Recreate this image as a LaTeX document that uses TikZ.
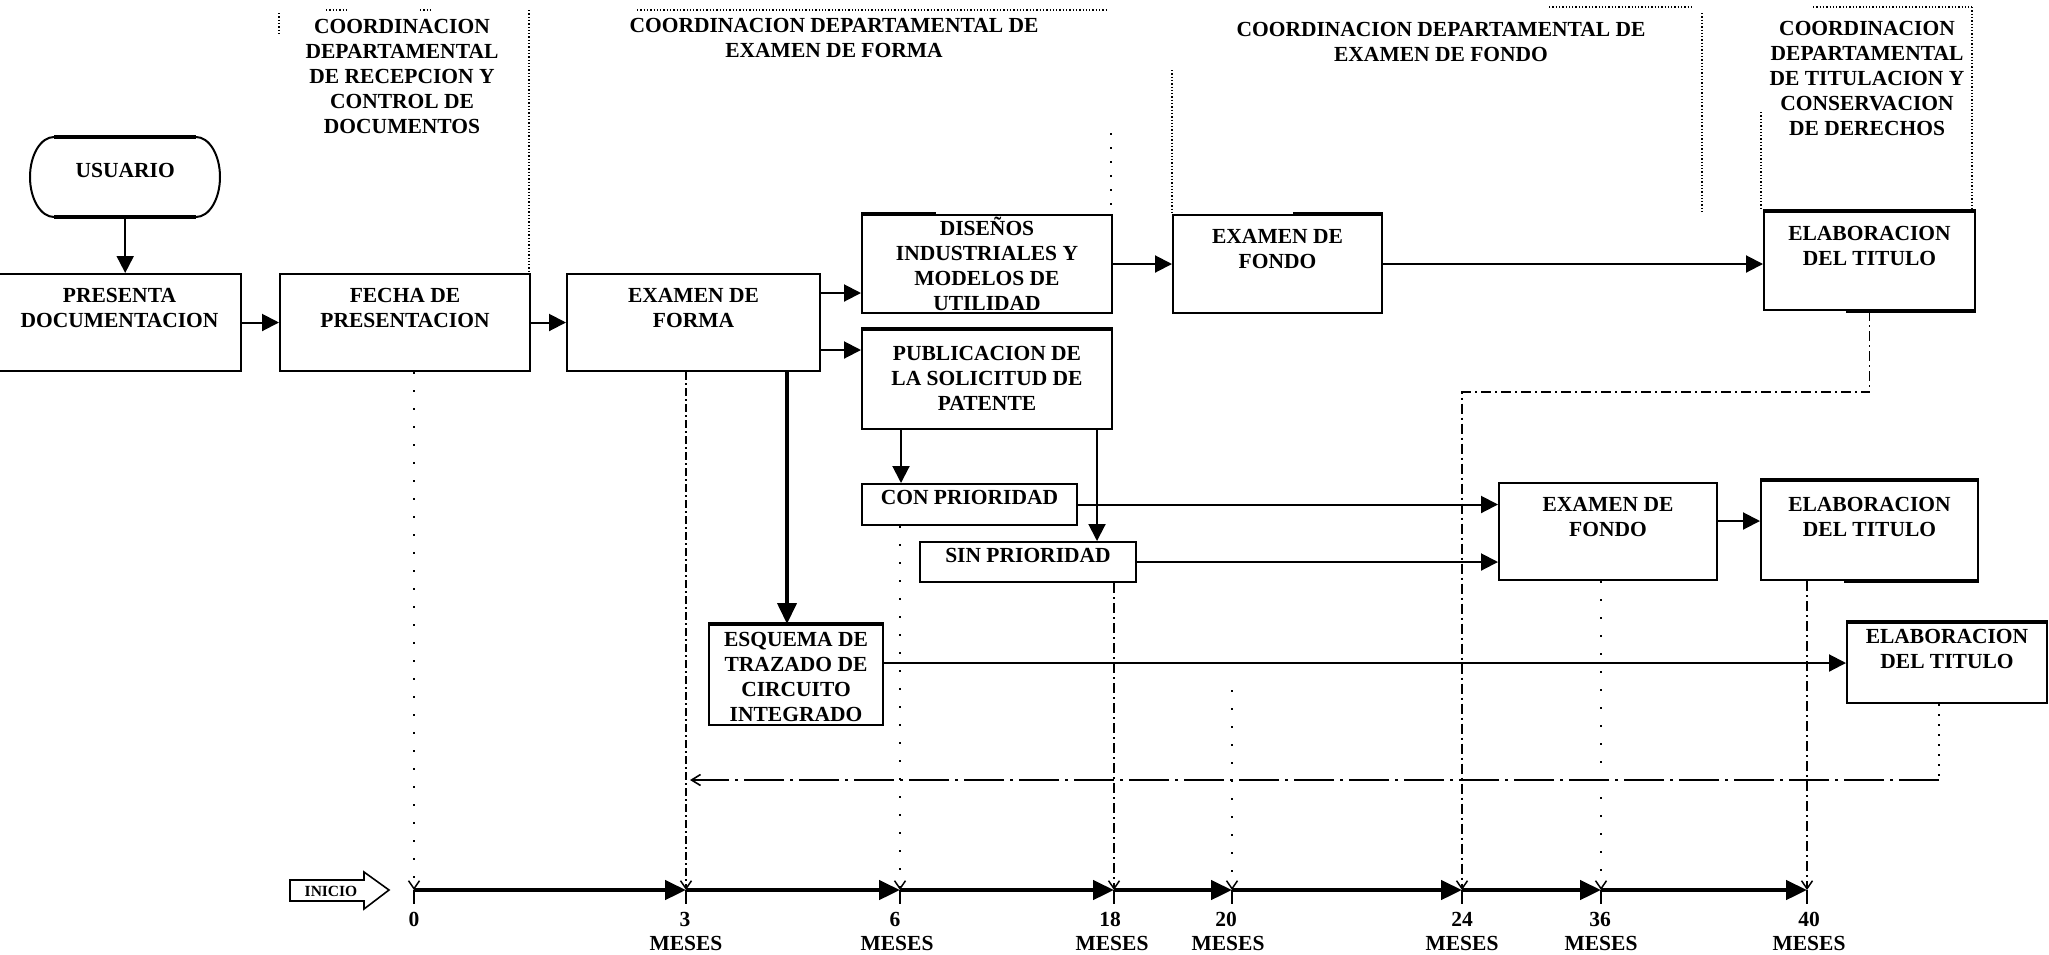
\documentclass[tikz,border=0pt]{standalone}
\usepackage{fontspec}
\setmainfont{Liberation Serif}
\usetikzlibrary{arrows.meta,calc}

% text block of fixed size, top aligned: width, height, top gap, text
\newcommand{\flowcell}[4]{\parbox[c][#2pt][t]{#1pt}{\centering\vspace*{#3pt}\rule{0pt}{20pt}#4\par}}

\tikzset{
  txt/.style={font=\bfseries\fontsize{21.5}{25}\selectfont, inner sep=0pt},
  cell/.style={txt, draw, line width=2pt, anchor=north west},
  hdr/.style={txt, anchor=north},
  arr/.style={line width=2pt, -{Triangle[length=17pt,width=17pt]}},
  bigarr/.style={line width=4pt, -{Triangle[length=21pt,width=19pt]}},
  tline/.style={line width=4.5pt, -{Triangle[length=21pt,width=19pt]}},
  frame/.style={line width=1.3pt, dash pattern=on 1.3pt off 2pt},
  sparse/.style={line width=1.6pt, dash pattern=on 2pt off 16pt, -{Straight Barb[length=8pt,width=11pt,line width=1.5pt]}},
  dashdot/.style={line width=1.6pt, dash pattern=on 10pt off 4pt on 2pt off 4pt, -{Straight Barb[length=8pt,width=11pt,line width=1.5pt]}},
  retline/.style={line width=1.6pt, dash pattern=on 40pt off 6pt on 3pt off 6pt, -{Straight Barb[length=9pt,width=11pt,line width=1.6pt]}},
  heavy/.style={line width=4pt},
  lbl/.style={font=\bfseries\fontsize{21.5}{25}\selectfont, inner sep=0pt, anchor=base},
}

\begin{document}
\begin{tikzpicture}[x=1pt,y=-1pt]
\fill[white] (0,0) rectangle (2049,954);
\useasboundingbox (0,0) rectangle (2049,954);

% ---------- department headings ----------
\node[hdr] (hd1) at (402,13) {\flowcell{260}{130}{0}{COORDINACION\\DEPARTAMENTAL\\DE RECEPCION Y\\CONTROL DE\\DOCUMENTOS}};
\node[hdr] (hd2) at (834,12) {\flowcell{460}{60}{0}{COORDINACION DEPARTAMENTAL DE\\EXAMEN DE FORMA}};
\node[hdr] (hd3) at (1441,16) {\flowcell{460}{60}{0}{COORDINACION DEPARTAMENTAL DE\\EXAMEN DE FONDO}};
\node[hdr] (hd4) at (1867,15) {\flowcell{230}{130}{0}{COORDINACION\\DEPARTAMENTAL\\DE TITULACION Y\\CONSERVACION\\DE DERECHOS}};

% ---------- dotted department frames ----------
\draw[frame] (279,13) -- (279,35);
\draw[frame] (529,10) -- (529,272);
\draw[frame] (326,10) -- (348,10);
\draw[frame] (420,10) -- (433,10);
\draw[frame] (637,10) -- (1108,10);
\draw[line width=1.3pt, dash pattern=on 2pt off 12pt] (1111,133) -- (1111,213);
\draw[frame] (1172,70) -- (1172,213);
\draw[frame] (1549,7) -- (1692,7);
\draw[frame] (1702,13) -- (1702,213);
\draw[frame] (1761,112) -- (1761,210);
\draw[frame] (1813,7) -- (1972,7);
\draw[frame] (1972,7) -- (1972,210);

% ---------- process boxes ----------
\node[txt, anchor=north west] (usuario) at (30,137) {\flowcell{190}{80}{20}{USUARIO}};
\draw[line width=2pt] (54,137) -- (196,137) .. controls (209.3,137) and (220,155) .. (220,177)
  .. controls (220,199) and (209.3,217) .. (196,217) -- (54,217)
  .. controls (40.7,217) and (30,199) .. (30,177) .. controls (30,155) and (40.7,137) .. cycle;
\draw[line width=4.5pt] (54,137) -- (196,137);
\draw[line width=4.5pt] (54,217) -- (196,217);

\node[cell] (presenta) at (-3,273) {\flowcell{243}{97}{8}{PRESENTA\\DOCUMENTACION}};
\node[cell] (fecha) at (279,273) {\flowcell{250}{97}{8}{FECHA DE\\PRESENTACION}};
\node[cell] (examen) at (566,273) {\flowcell{253}{97}{8}{EXAMEN DE\\FORMA}};
\node[cell] (disenos) at (861,214) {\flowcell{250}{98}{0}{DISEÑOS\\INDUSTRIALES Y\\MODELOS DE\\UTILIDAD}};
\node[cell] (pub) at (861,329) {\flowcell{250}{99}{10}{PUBLICACION DE\\LA SOLICITUD DE\\PATENTE}};
\node[cell] (fondo1) at (1172,214) {\flowcell{209}{98}{8}{EXAMEN DE\\FONDO}};
\node[cell] (elab1) at (1763,211) {\flowcell{211}{98}{8}{ELABORACION\\DEL TITULO}};
\node[cell] (con) at (861,483) {\flowcell{215}{41}{0}{CON PRIORIDAD}};
\node[cell] (sin) at (919,541) {\flowcell{216}{40}{0}{SIN PRIORIDAD}};
\node[cell] (fondo2) at (1498,482) {\flowcell{218}{97}{8}{EXAMEN DE\\FONDO}};
\node[cell] (elab2) at (1760,480) {\flowcell{217}{99}{10}{ELABORACION\\DEL TITULO}};
\node[cell] (elab3) at (1846,622) {\flowcell{200}{80}{0}{ELABORACION\\DEL TITULO}};
\node[cell] (esquema) at (708,624) {\flowcell{174}{100}{1}{ESQUEMA DE\\TRAZADO DE\\CIRCUITO\\INTEGRADO}};

% heavier edge stretches
\draw[heavy] (pub.north west) -- (pub.north east);
\draw[heavy] (elab1.north west) -- (elab1.north east);
\draw[heavy] (elab2.north west) -- (elab2.north east);
\draw[heavy] (elab3.north west) -- (elab3.north east);
\draw[heavy] (esquema.north west) -- (esquema.north east);
\draw[heavy] (disenos.north west) -- ([xshift=75pt]disenos.north west);
\draw[heavy] ([xshift=-90pt]fondo1.north east) -- (fondo1.north east);
\draw[heavy] ([xshift=-130pt]elab1.south east) -- (elab1.south east);
\draw[heavy] ([xshift=-135pt]elab2.south east) -- (elab2.south east);

% ---------- flow connectors ----------
\draw[arr] (usuario.south) -- (usuario.south |- presenta.north);
\draw[arr] (presenta.east) -- (fecha.west);
\draw[arr] (fecha.east) -- (examen.west);
\coordinate (ex1) at ([yshift=-20pt]examen.north east);
\coordinate (ex2) at ([yshift=-77pt]examen.north east);
\draw[arr] (ex1) -- (ex1 -| disenos.west);
\draw[arr] (ex2) -- (ex2 -| pub.west);
\draw[arr] (disenos.east) -- (disenos.east -| fondo1.west);
\draw[arr] (fondo1.east) -- (fondo1.east -| elab1.west);
\coordinate (pb1) at ([xshift=40pt]pub.south west);
\coordinate (pb2) at ([xshift=-16pt]pub.south east);
\draw[arr] (pb1) -- (pb1 |- con.north);
\draw[arr] (pb2) -- (pb2 |- sin.north);
\coordinate (exd) at ([xshift=221pt]examen.south west);
\draw[bigarr] (exd) -- (exd |- esquema.north);
\draw[arr] (con.east) -- (con.east -| fondo2.west);
\draw[arr] (sin.east) -- (sin.east -| fondo2.west);
\coordinate (fo2) at ([yshift=-39pt]fondo2.north east);
\draw[arr] (fo2) -- (fo2 -| elab2.west);
\draw[arr] (esquema.east |- elab3.west) -- (elab3.west);

% ---------- time axis ----------
\coordinate (t0) at (414,890);
\coordinate (t3) at (686,890);
\coordinate (t6) at (900,890);
\coordinate (t18) at (1114,890);
\coordinate (t20) at (1232,890);
\coordinate (t24) at (1462,890);
\coordinate (t36) at (1601,890);
\coordinate (t40) at (1807,890);

\draw[line width=1.6pt] (290,880) -- (364,880) -- (364,872) -- (389,890) -- (364,909) -- (364,901) -- (290,901) -- cycle;
\node[font=\bfseries\fontsize{15.5}{17}\selectfont, inner sep=0pt] (inicio) at (331,891) {INICIO};

\draw[tline] (t0) -- (t3);
\draw[tline] (t3) -- (t6);
\draw[tline] (t6) -- (t18);
\draw[tline] (t18) -- (t20);
\draw[tline] (t20) -- (t24);
\draw[tline] (t24) -- (t36);
\draw[tline] (t36) -- (t40);
\foreach \t in {t0,t3,t6,t18,t20,t24,t36,t40}
  \draw[line width=2pt] (\t) -- ++(0,14);

\node[lbl] (n0) at (414,926) {0};
\node[lbl] (n3) at (685,926) {3};
\node[lbl] (n6) at (895,926) {6};
\node[lbl] (n18) at (1110,926) {18};
\node[lbl] (n20) at (1226,926) {20};
\node[lbl] (n24) at (1462,926) {24};
\node[lbl] (n36) at (1600,926) {36};
\node[lbl] (n40) at (1809,926) {40};
\foreach \x/\n in {686/m3,897/m6,1112/m18,1228/m20,1462/m24,1601/m36,1809/m40}
  \node[lbl] (\n) at (\x,950) {MESES};

% ---------- time guides ----------
\draw[sparse] (t0 |- fecha.south) -- (t0);
\draw[line width=1.6pt, dash pattern=on 8pt off 3pt on 2pt off 3pt, -{Straight Barb[length=8pt,width=11pt,line width=1.5pt]}] (t3 |- examen.south) -- (t3);
\draw[sparse] (t6 |- con.south) -- (t6);
\draw[dashdot] (t18 |- sin.south) -- (t18);
\coordinate (g20) at (1232,690);
\draw[sparse] (g20) -- (t20);
\draw[dashdot] (elab1.south) -- ++(0,81) -| (t24);
\draw[sparse] (t36 |- fondo2.south) -- (t36);
\draw[dashdot] (t40 |- elab2.south) -- (t40);

% return line to the 3-month mark
\coordinate (e3b) at ([xshift=-8pt]elab3.south);
\coordinate (rback) at (690,780);
\draw[line width=1.6pt, dash pattern=on 2pt off 8pt] (e3b) -- (e3b |- rback);
\draw[retline] (e3b |- rback) -- (rback);
\end{tikzpicture}
\end{document}
